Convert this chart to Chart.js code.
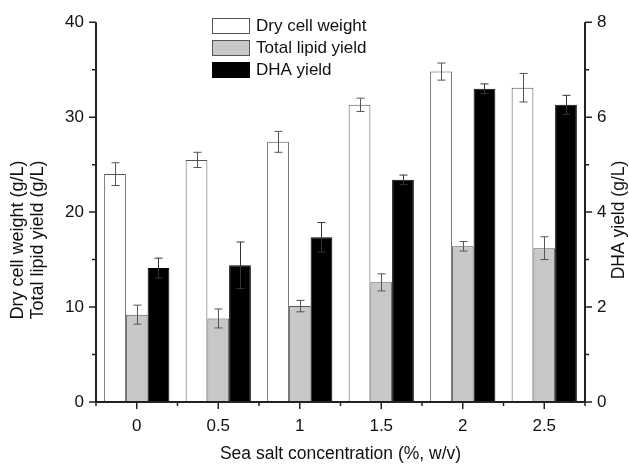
<!DOCTYPE html>
<html lang="en">
<head>
  <meta charset="UTF-8" />
  <title>Sea salt concentration</title>
  <script src="https://cdn.jsdelivr.net/npm/chart.js@4.4.1/dist/chart.umd.min.js"></script>
  <style>
    body { margin: 0; background: #fff; }
    .wrap { width: 629px; height: 465px; position: relative; }
  </style>
</head>
<body>
  <div class="wrap"><canvas id="chart"></canvas></div>

  <script>
    // data
    const categories = ['0', '0.5', '1', '1.5', '2', '2.5'];
    const dryCellWeight = [24.0, 25.5, 27.4, 31.3, 34.8, 33.1];
    const dryCellErr = [1.2, 0.8, 1.1, 0.7, 0.9, 1.5];
    const totalLipid = [9.2, 8.8, 10.1, 12.6, 16.4, 16.2];
    const totalLipidErr = [1.0, 1.0, 0.6, 0.9, 0.5, 1.2];
    const dhaYield = [2.82, 2.88, 3.47, 4.68, 6.60, 6.26];
    const dhaErr = [0.21, 0.49, 0.31, 0.10, 0.10, 0.20];
    const leftTicks = [0, 10, 20, 30, 40];
    const rightTicks = [0, 2, 4, 6, 8];

    const FONT = "'Liberation Sans', Arial, sans-serif";
    const AXIS = '#222';
    const INK = '#111';

    // error bars on top of each bar
    const errorBars = {
      id: 'errorBars',
      afterDatasetsDraw(chart) {
        const ctx = chart.ctx;
        chart.data.datasets.forEach((ds, i) => {
          const meta = chart.getDatasetMeta(i);
          const ys = chart.scales[ds.yAxisID];
          ctx.save();
          ctx.strokeStyle = ds.errColor;
          ctx.lineWidth = 1;
          meta.data.forEach((bar, j) => {
            const v = ds.data[j], e = ds.errors[j];
            const top = ys.getPixelForValue(v + e);
            const bot = ys.getPixelForValue(v - e);
            const x = Math.round(bar.x) + 0.5;
            ctx.beginPath();
            ctx.moveTo(x, top); ctx.lineTo(x, bot);
            ctx.moveTo(x - 4, top); ctx.lineTo(x + 4, top);
            ctx.moveTo(x - 4, bot); ctx.lineTo(x + 4, bot);
            ctx.stroke();
          });
          ctx.restore();
        });
      }
    };

    function rotatedText(ctx, text, x, y) {
      ctx.save();
      ctx.translate(x, y);
      ctx.rotate(-Math.PI / 2);
      ctx.fillText(text, 0, 0);
      ctx.restore();
    }

    // axis lines over the bars, outward tick marks (major + minor), titles, legend
    const decorations = {
      id: 'decorations',
      afterDraw(chart) {
        const ctx = chart.ctx;
        const a = chart.chartArea;
        const yl = chart.scales.y, yr = chart.scales.y1, x = chart.scales.x;
        ctx.save();
        ctx.strokeStyle = AXIS;
        ctx.lineWidth = 2;
        ctx.beginPath();
        ctx.moveTo(a.left, a.top); ctx.lineTo(a.left, a.bottom); ctx.lineTo(a.right, a.bottom); ctx.lineTo(a.right, a.top);
        ctx.stroke();
        ctx.lineWidth = 1.5;
        ctx.beginPath();
        for (let v = 0; v <= 40; v += 5) {
          const p = yl.getPixelForValue(v);
          ctx.moveTo(a.left, p); ctx.lineTo(a.left - (v % 10 === 0 ? 7 : 4), p);
        }
        for (let v = 0; v <= 8; v += 1) {
          const p = yr.getPixelForValue(v);
          ctx.moveTo(a.right, p); ctx.lineTo(a.right + (v % 2 === 0 ? 7 : 4), p);
        }
        const half = (x.getPixelForValue(1) - x.getPixelForValue(0)) / 2;
        categories.forEach((c, i) => {
          const p = x.getPixelForValue(i);
          ctx.moveTo(p, a.bottom); ctx.lineTo(p, a.bottom + 7);
          ctx.moveTo(p + half, a.bottom); ctx.lineTo(p + half, a.bottom + 4);
          if (i === 0) { ctx.moveTo(p - half, a.bottom); ctx.lineTo(p - half, a.bottom + 4); }
        });
        ctx.stroke();

        // axis titles
        ctx.fillStyle = INK;
        ctx.textAlign = 'center';
        ctx.textBaseline = 'middle';
        ctx.font = '17.5px ' + FONT;
        ctx.fillText('Sea salt concentration (%, w/v)', (a.left + a.right) / 2, 454);
        rotatedText(ctx, 'DHA yield (g/L)', 619, 220);
        ctx.font = '18px ' + FONT;
        rotatedText(ctx, 'Dry cell weight (g/L)', 18.5, 240);
        rotatedText(ctx, 'Total lipid yield (g/L)', 38.5, 240);
        ctx.restore();

        // legend
        ctx.save();
        ctx.font = '17px ' + FONT;
        ctx.textBaseline = 'middle';
        ctx.textAlign = 'left';
        chart.data.datasets.forEach((ds, i) => {
          const y0 = 18 + i * 22;
          ctx.fillStyle = ds.backgroundColor;
          ctx.fillRect(212, y0, 38, 16);
          ctx.strokeStyle = ds.borderColor;
          ctx.lineWidth = 1;
          ctx.strokeRect(212.5, y0 + 0.5, 37, 15);
          ctx.fillStyle = INK;
          ctx.fillText(ds.label, 256, y0 + 8.5);
        });
        ctx.restore();
      }
    };

    const tickFont = { family: FONT, size: 17 };

    new Chart(document.getElementById('chart'), {
      type: 'bar',
      data: {
        labels: categories,
        datasets: [
          { label: 'Dry cell weight', data: dryCellWeight, errors: dryCellErr, yAxisID: 'y',
            backgroundColor: '#ffffff', borderColor: '#555', borderWidth: 1, errColor: '#555' },
          { label: 'Total lipid yield', data: totalLipid, errors: totalLipidErr, yAxisID: 'y',
            backgroundColor: '#c8c8c8', borderColor: '#555', borderWidth: 1, errColor: '#555' },
          { label: 'DHA yield', data: dhaYield, errors: dhaErr, yAxisID: 'y1',
            backgroundColor: '#000000', borderColor: '#000000', borderWidth: 1, errColor: '#333' }
        ]
      },
      options: {
        responsive: true,
        maintainAspectRatio: false,
        animation: false,
        layout: { padding: { top: 20, left: 0, right: 0, bottom: 0 } },
        categoryPercentage: 0.8,
        barPercentage: 1.0,
        plugins: { legend: { display: false }, tooltip: { enabled: false } },
        scales: {
          x: {
            grid: { display: false, drawTicks: false },
            border: { display: false },
            ticks: { color: INK, font: tickFont, padding: 14 },
            afterFit(s) { s.height = 63; }
          },
          y: {
            position: 'left',
            min: 0, max: 40,
            afterBuildTicks(s) { s.ticks = leftTicks.map(v => ({ value: v })); },
            grid: { display: false, drawTicks: false },
            border: { display: false },
            ticks: { color: INK, font: tickFont, padding: 12 },
            afterFit(s) { s.width = 96; }
          },
          y1: {
            position: 'right',
            min: 0, max: 8,
            afterBuildTicks(s) { s.ticks = rightTicks.map(v => ({ value: v })); },
            grid: { display: false, drawTicks: false },
            border: { display: false },
            ticks: { color: INK, font: tickFont, padding: 12 },
            afterFit(s) { s.width = 44; }
          }
        }
      },
      plugins: [errorBars, decorations]
    });
  </script>
</body>
</html>
